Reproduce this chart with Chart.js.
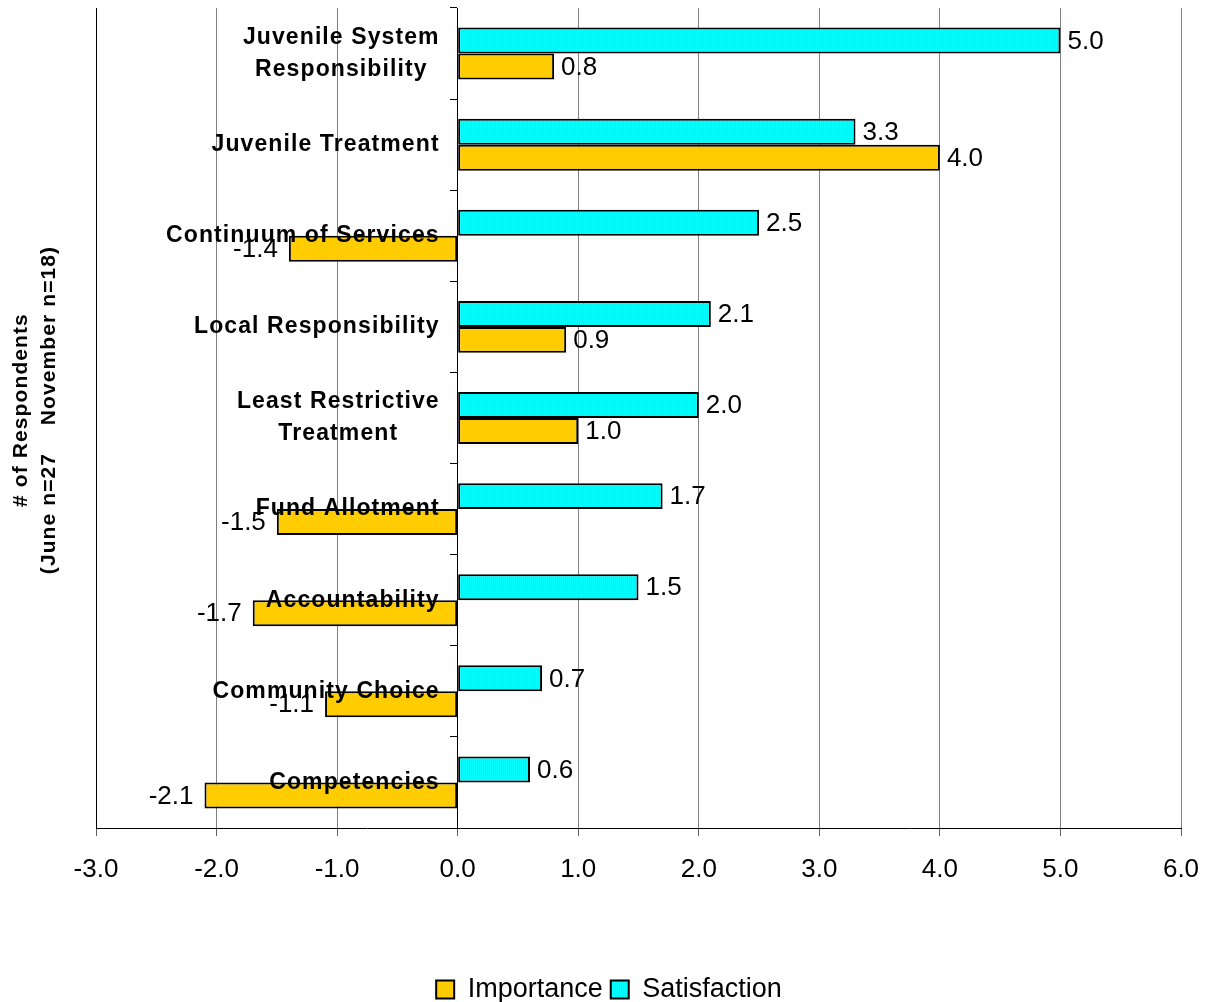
<!DOCTYPE html>
<html>
<head>
<meta charset="utf-8">
<title>Importance vs Satisfaction</title>
<script src="https://cdn.jsdelivr.net/npm/chart.js@4.4.0/dist/chart.umd.min.js"></script>
<style>
  html, body { margin: 0; padding: 0; background: #fff; }
  canvas { display: block; }
</style>
</head>
<body>
<canvas id="chart" width="1206" height="1002"></canvas>
<script>
'use strict';

// chart data, top to bottom

const categories = [
    ['Juvenile System', 'Responsibility'],
    'Juvenile Treatment',
    'Continuum of Services',
    'Local Responsibility',
    ['Least Restrictive', 'Treatment'],
    'Fund Allotment',
    'Accountability',
    'Community Choice',
    'Competencies'
]
const satisfaction = [5.0, 3.3, 2.5, 2.1, 2.0, 1.7, 1.5, 0.7, 0.6]
const importance = [0.8, 4.0, -1.4, 0.9, 1.0, -1.5, -1.7, -1.1, -2.1]
const xMin = -3
const xMax = 6
const yTitle = ['# of Respondents', '(June n=27    November n=18)']

const fontFamily = '"Liberation Sans", Arial, sans-serif'
Chart.defaults.font.family = fontFamily
Chart.defaults.color = '#000'

// dotted cyan fill for the satisfaction bars

function makeDotPattern() {
    const c = document.createElement('canvas')
    c.width = 4
    c.height = 2
    const g = c.getContext('2d')
    g.fillStyle = '#00ffff'
    g.fillRect(0, 0, 4, 2)
    g.fillStyle = '#4cc8c8'
    g.fillRect(1, 0, 1, 1)
    g.fillRect(3, 1, 1, 1)
    return g.createPattern(c, 'repeat')
}

// category names drawn at the zero line, value labels at bar ends, rotated y title

const annotations = {
    id: 'annotations',
    afterDatasetsDraw(chart) {
        const { ctx, scales: { x, y }, chartArea } = chart
        const zeroX = x.getPixelForValue(0)

        ctx.save()
        ctx.fillStyle = '#000'

        // value labels
        ctx.font = `26px ${fontFamily}`
        ctx.textBaseline = 'middle'
        chart.data.datasets.forEach((ds, di) => {
            const meta = chart.getDatasetMeta(di)
            meta.data.forEach((bar, i) => {
                const v = ds.data[i]
                const label = v.toFixed(1)
                if (v >= 0) {
                    ctx.textAlign = 'left'
                    ctx.fillText(label, bar.x + 7, bar.y + 1)
                } else {
                    ctx.textAlign = 'right'
                    ctx.fillText(label, bar.x - 11, bar.y + 1)
                }
            })
        })

        // category names
        ctx.font = `bold 23px ${fontFamily}`
        ctx.letterSpacing = '1.1px'
        const lineH = 32
        const rightEdge = zeroX - 18
        categories.forEach((cat, i) => {
            const lines = Array.isArray(cat) ? cat : [cat]
            const cy = y.getPixelForValue(i)
            const widths = lines.map(l => ctx.measureText(l).width)
            const maxW = Math.max(...widths)
            lines.forEach((line, li) => {
                const ly = cy + (li - (lines.length - 1) / 2) * lineH
                if (lines.length > 1) {
                    ctx.textAlign = 'center'
                    ctx.fillText(line, rightEdge - maxW / 2, ly)
                } else {
                    ctx.textAlign = 'right'
                    ctx.fillText(line, rightEdge, ly)
                }
            })
        })

        // y title
        ctx.font = `bold 21px ${fontFamily}`
        ctx.letterSpacing = '1.1px'
        ctx.textAlign = 'center'
        const midY = (chartArea.top + chartArea.bottom) / 2 - 8
        ctx.translate(chartArea.left - 75, midY)
        ctx.rotate(-Math.PI / 2)
        yTitle.forEach((line, li) => {
            ctx.fillText(line, 0, li * 28)
        })
        ctx.restore()
    }
}

const dotPattern = makeDotPattern()

new Chart(document.getElementById('chart'), {
    type: 'bar',
    data: {
        labels: categories,
        datasets: [{
            label: 'Satisfaction',
            data: satisfaction,
            backgroundColor: dotPattern,
            borderColor: '#000',
            borderWidth: 2,
            borderSkipped: false,
            categoryPercentage: 0.57,
            barPercentage: 1.0
        }, {
            label: 'Importance',
            data: importance,
            backgroundColor: '#ffcc00',
            borderColor: '#000',
            borderWidth: 2,
            borderSkipped: false,
            categoryPercentage: 0.57,
            barPercentage: 1.0
        }]
    },
    options: {
        indexAxis: 'y',
        responsive: false,
        animation: false,
        devicePixelRatio: 1,
        layout: {
            padding: { left: 37, right: 25, top: 8, bottom: -11 }
        },
        scales: {
            x: {
                type: 'linear',
                min: xMin,
                max: xMax,
                ticks: {
                    stepSize: 1,
                    font: { size: 26 },
                    color: '#000',
                    padding: 3,
                    callback: v => Number(v).toFixed(1)
                },
                grid: {
                    color: ctx => (ctx.tick && (ctx.tick.value === xMin || ctx.tick.value === 0)) ? '#000' : '#808080',
                    lineWidth: 1,
                    // long tick so labels sit low, dashed so only 7px of it shows
                    tickLength: 23,
                    tickBorderDash: [7, 100],
                    tickColor: '#606060'
                },
                border: { color: '#000', width: 1 },
                afterFit: scale => { scale.height = 140 }
            },
            y: {
                type: 'category',
                position: { x: 0 },
                ticks: { display: false },
                grid: {
                    drawOnChartArea: false,
                    drawTicks: true,
                    tickLength: 7,
                    color: '#000',
                    offset: true
                },
                border: { color: '#000', width: 1 }
            },
            // empty left axis that only holds room for the rotated title
            titleRoom: {
                type: 'linear',
                axis: 'y',
                position: 'left',
                ticks: { display: false },
                grid: { display: false, drawTicks: false },
                border: { display: false },
                afterFit: scale => { scale.width = 59 }
            }
        },
        plugins: {
            legend: {
                position: 'bottom',
                reverse: true,
                labels: {
                    boxWidth: 18,
                    boxHeight: 18,
                    padding: 8,
                    color: '#000',
                    font: { size: 27 }
                }
            },
            tooltip: { enabled: false }
        }
    },
    plugins: [annotations]
})
</script>
</body>
</html>
